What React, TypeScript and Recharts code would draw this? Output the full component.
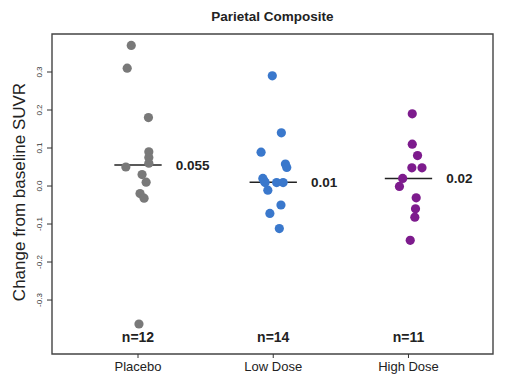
import { Label, ReferenceArea, ReferenceLine, Scatter, ScatterChart, XAxis, YAxis } from 'recharts';

const GROUPS = ['Placebo', 'Low Dose', 'High Dose'];
const GROUP_COLORS = ['#797979', '#3a78cc', '#7d1b8d'];
const COUNTS = [12, 14, 11];
const MEDIANS = [0.055, 0.01, 0.02];
const MEDIAN_LABELS = ['0.055', '0.01', '0.02'];
const Y_TICKS = [-0.3, -0.2, -0.1, 0, 0.1, 0.2, 0.3];

const PLACEBO_VALUES = [0.37, 0.31, 0.18, 0.09, 0.075, 0.06, 0.05, 0.03, 0.01, -0.02, -0.032, -0.363];
const PLACEBO_JITTER = [-0.05, -0.08, 0.077, 0.08, 0.08, 0.08, -0.09, 0.03, 0.06, 0.015, 0.045, 0.007];

const LOW_VALUES = [0.29, 0.14, 0.089, 0.058, 0.049, 0.02, 0.013, 0.009, 0.009, 0.009, -0.011, -0.05, -0.072, -0.112];
const LOW_JITTER = [-0.007, 0.06, -0.09, 0.09, 0.1, -0.077, -0.067, -0.06, 0.025, 0.073, -0.04, 0.057, -0.025, 0.045];

const HIGH_VALUES = [0.19, 0.11, 0.08, 0.048, 0.048, 0.02, -0.001, -0.031, -0.06, -0.082, -0.143];
const HIGH_JITTER = [0.028, 0.028, 0.067, 0.025, 0.1, -0.043, -0.067, 0.057, 0.052, 0.047, 0.013];

const MEDIAN_HALF_WIDTH = 0.175;
const N_LABEL_Y = -0.397;

const toPoints = (values: number[], jitter: number[], group: number) =>
  values.map((v, i) => ({ x: group + jitter[i], y: v }));

const SERIES = [
  toPoints(PLACEBO_VALUES, PLACEBO_JITTER, 1),
  toPoints(LOW_VALUES, LOW_JITTER, 2),
  toPoints(HIGH_VALUES, HIGH_JITTER, 3),
];

const medianLabelData = MEDIANS.map((m, i) => ({ x: i + 1 + MEDIAN_HALF_WIDTH, y: m, text: MEDIAN_LABELS[i] }));
const countLabelData = COUNTS.map((n, i) => ({ x: i + 1, y: N_LABEL_Y, text: `n=${n}` }));

const FONT = '"Liberation Sans", Arial, sans-serif';

const YTick = (props: any) => {
  const { y, payload } = props;
  const x = 40;
  return (
    <text
      x={x}
      y={y}
      transform={`rotate(-90 ${x} ${y})`}
      textAnchor="middle"
      dominantBaseline="central"
      fontSize={8}
      fill="#333"
      fontFamily={FONT}
    >
      {payload.value.toFixed(1)}
    </text>
  );
};

const App = () => {
  return (
    <div style={{ position: 'relative', width: 511, height: 390, fontFamily: FONT }}>
      <style>{'body{margin:0}'}</style>
      <div
        style={{
          position: 'absolute',
          top: 9,
          left: 52,
          width: 441,
          textAlign: 'center',
          fontSize: 13.5,
          fontWeight: 'bold',
          color: '#222',
        }}
      >
        Parietal Composite
      </div>
      <ScatterChart width={511} height={390} margin={{ top: 34, right: 18, bottom: 0, left: 0 }}>
        <XAxis
          type="number"
          dataKey="x"
          domain={[0.364, 3.625]}
          ticks={[1, 2, 3]}
          tickFormatter={(v) => GROUPS[v - 1]}
          allowDataOverflow
          axisLine={false}
          tickSize={4}
          tickMargin={4}
          tickLine={{ stroke: '#333' }}
          height={36}
          tick={{ fontSize: 13, fill: '#222', fontFamily: FONT }}
        />
        <YAxis
          type="number"
          dataKey="y"
          domain={[-0.442, 0.4]}
          ticks={Y_TICKS}
          allowDataOverflow
          axisLine={false}
          tickSize={5}
          tickLine={{ stroke: '#333' }}
          width={52}
          tick={<YTick />}
        >
          <Label
            content={() => (
              <text
                x={19}
                y={192}
                transform="rotate(-90 19 192)"
                textAnchor="middle"
                dominantBaseline="central"
                fontSize={17}
                fill="#222"
                fontFamily={FONT}
              >
                Change from baseline SUVR
              </text>
            )}
          />
        </YAxis>
        <ReferenceArea x1={0.364} x2={3.625} y1={-0.442} y2={0.4} fill="none" stroke="#444" strokeWidth={1.4} />
        {SERIES.map((data, i) => (
          <Scatter
            key={GROUPS[i]}
            data={data}
            isAnimationActive={false}
            shape={(p: any) => <circle cx={p.cx} cy={p.cy} r={4.6} fill={GROUP_COLORS[i]} />}
          />
        ))}
        {MEDIANS.map((m, i) => (
          <ReferenceLine
            key={`med-${i}`}
            segment={[
              { x: i + 1 - MEDIAN_HALF_WIDTH, y: m },
              { x: i + 1 + MEDIAN_HALF_WIDTH, y: m },
            ]}
            stroke="#222"
            strokeWidth={1.5}
          />
        ))}
        <Scatter
          data={medianLabelData}
          isAnimationActive={false}
          shape={(p: any) => (
            <text
              x={p.cx + 14}
              y={p.cy}
              dominantBaseline="central"
              fontSize={13.5}
              fontWeight="bold"
              fill="#222"
              fontFamily={FONT}
            >
              {p.payload.text}
            </text>
          )}
        />
        <Scatter
          data={countLabelData}
          isAnimationActive={false}
          shape={(p: any) => (
            <text
              x={p.cx}
              y={p.cy}
              textAnchor="middle"
              dominantBaseline="central"
              fontSize={14}
              fontWeight="bold"
              fill="#222"
              fontFamily={FONT}
            >
              {p.payload.text}
            </text>
          )}
        />
      </ScatterChart>
    </div>
  );
};

export default App;
